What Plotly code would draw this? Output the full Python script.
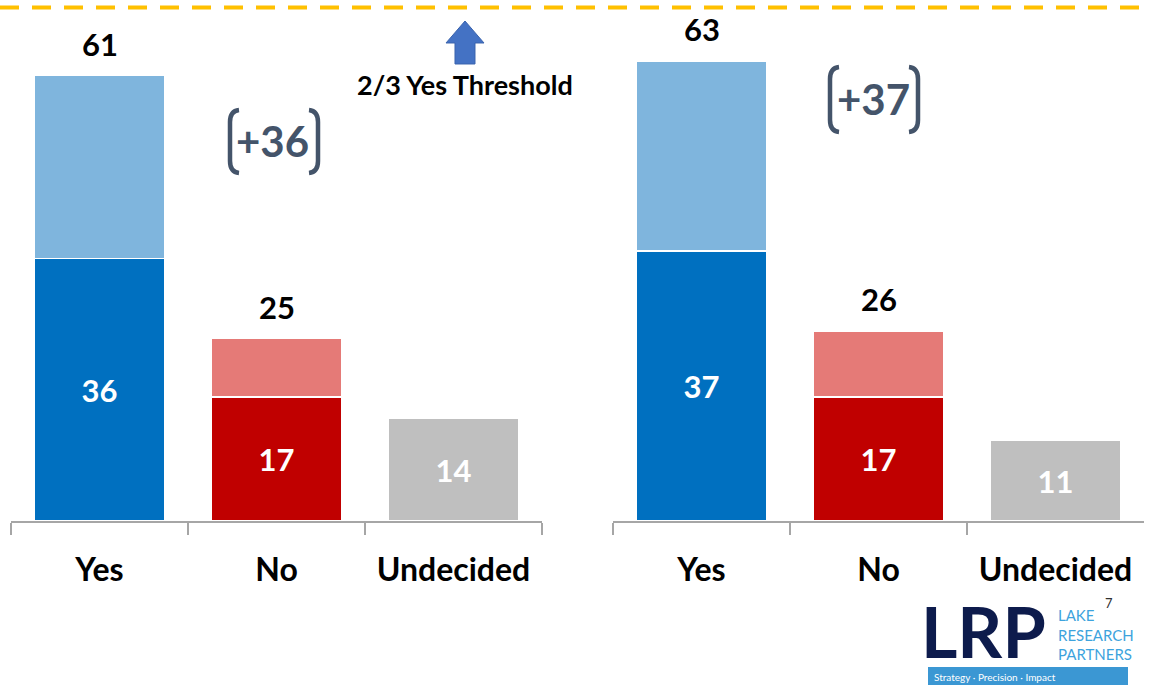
import plotly.graph_objects as go

# ---------------- data ----------------
categories = ["Yes", "No", "Undecided"]

left_firm = [36, 17, 14]      # strong (dark) segments
left_totals = [61, 25, 14]    # totals shown above bars
right_firm = [37, 17, 11]
right_totals = [63, 26, 11]

left_margin_label = "+36"
right_margin_label = "+37"
threshold_label = "2/3 Yes Threshold"
page_number = "7"

# ---------------- style ----------------
DARK = ["#0070C0", "#C00000", "#BFBFBF"]
LIGHT = ["#7FB5DD", "#E57A77", "#BFBFBF"]
FONT = "Lato, 'Open Sans', sans-serif"
W, H = 1150, 685
AXIS_Y = 521.0           # pixel row of the category axis
YMAX = 71.4              # value at the top of the plot area


def X(px):
    return px / W


def Y(py):
    return (AXIS_Y - py) / AXIS_Y


fig = go.Figure()


def add_panel(firm, totals, xa, ya):
    soft = [t - f if t - f > 0 else None for f, t in zip(firm, totals)]
    fig.add_trace(go.Bar(
        x=categories, y=firm, xaxis=xa, yaxis=ya,
        marker=dict(color=DARK, line=dict(color="white", width=1.2)),
        text=[str(v) for v in firm], textposition="inside",
        insidetextanchor="middle", textangle=0, constraintext="none",
        textfont=dict(family=FONT, size=31, color="white", weight="bold"),
        hoverinfo="skip", showlegend=False,
    ))
    fig.add_trace(go.Bar(
        x=categories, y=soft, xaxis=xa, yaxis=ya,
        marker=dict(color=LIGHT, line=dict(color="white", width=1.2)),
        hoverinfo="skip", showlegend=False,
    ))
    for c, t, f in zip(categories, totals, firm):
        if t != f:
            fig.add_annotation(
                x=c, y=t, xref=xa, yref=ya, text=str(t), showarrow=False,
                yanchor="middle", yshift=32,
                font=dict(family=FONT, size=31, color="black", weight="bold"),
            )


add_panel(left_firm, left_totals, "x", "y")
add_panel(right_firm, right_totals, "x2", "y2")

xaxis_common = dict(
    type="category", categoryorder="array", categoryarray=categories,
    range=[-0.5, 2.5], showline=True, linecolor="#A6A6A6", linewidth=1.5,
    ticks="outside", tickson="boundaries", ticklen=12, tickcolor="#A6A6A6",
    tickwidth=1.5, ticklabelstandoff=20, showgrid=False, zeroline=False,
    tickfont=dict(family=FONT, size=32, color="black", weight="bold"),
    fixedrange=True,
)
yaxis_common = dict(range=[0, YMAX], visible=False, showgrid=False,
                    zeroline=False, fixedrange=True)

fig.update_layout(
    width=W, height=H,
    margin=dict(l=0, r=0, t=0, b=H - AXIS_Y, pad=0),
    paper_bgcolor="white", plot_bgcolor="white",
    barmode="stack", bargap=0.265, showlegend=False,
    xaxis=dict(domain=[X(11), X(542)], anchor="y", **xaxis_common),
    yaxis=dict(domain=[0, 1], anchor="x", **yaxis_common),
    xaxis2=dict(domain=[X(613), X(1144)], anchor="y2", **xaxis_common),
    yaxis2=dict(domain=[0, 1], anchor="x2", **yaxis_common),
)

shapes = []
# dashed 2/3 threshold line
shapes.append(dict(type="line", xref="paper", yref="paper",
                   x0=0, x1=1, y0=Y(7.5), y1=Y(7.5),
                   line=dict(color="#FFC000", width=4, dash="19px,13px")))
# up arrow
arrow = [(446, 43), (465, 21), (484, 43), (475, 43), (475, 64), (455, 64), (455, 43)]
path = "M " + " L ".join(f"{X(a):.5f},{Y(b):.5f}" for a, b in arrow) + " Z"
shapes.append(dict(type="path", xref="paper", yref="paper", path=path,
                   fillcolor="#4472C4", line=dict(color="#3A63AD", width=1)))


def bracket(xl, xr, yt, yb):
    out = []
    c = 9
    for x0, dx in ((xl, 1), (xr, -1)):
        p = (f"M {X(x0 + dx * 9):.5f},{Y(yt):.5f} "
             f"Q {X(x0):.5f},{Y(yt + 1):.5f} {X(x0):.5f},{Y(yt + c + 3):.5f} "
             f"L {X(x0):.5f},{Y(yb - c - 3):.5f} "
             f"Q {X(x0):.5f},{Y(yb - 1):.5f} {X(x0 + dx * 9):.5f},{Y(yb):.5f}")
        out.append(dict(type="path", xref="paper", yref="paper", path=p,
                        line=dict(color="#44546A", width=4.5)))
    return out


shapes += bracket(230, 318, 110, 173)
shapes += bracket(830, 918, 67, 132)

# logo strip
shapes.append(dict(type="rect", xref="paper", yref="paper",
                   x0=X(928), x1=X(1128), y0=Y(667), y1=Y(690),
                   fillcolor="#3B97D3", line=dict(width=0)))
fig.update_layout(shapes=shapes)

ann = [
    dict(x=X(464.5), y=Y(85), text=threshold_label,
         font=dict(family=FONT, size=27, color="black", weight="bold")),
    dict(x=X(272.5), y=Y(141), text=left_margin_label,
         font=dict(family=FONT, size=42, color="#44546A", weight="bold")),
    dict(x=X(873), y=Y(99), text=right_margin_label,
         font=dict(family=FONT, size=42, color="#44546A", weight="bold")),
    dict(x=X(983.5), y=Y(631), text="LRP", height=62,
         font=dict(family=FONT, size=70, color="#0D1B4C", weight="bold")),
    dict(x=X(1056), y=Y(634), text="LAKE<br>RESEARCH<br>PARTNERS", xanchor="left",
         align="left", font=dict(family=FONT, size=15, color="#3DA3DD")),
    dict(x=X(932), y=Y(677), text="Strategy · Precision · Impact", xanchor="left",
         font=dict(family=FONT, size=10, color="white")),
    dict(x=X(1109), y=Y(603), text=page_number,
         font=dict(family=FONT, size=13, color="#303030")),
]
for a in ann:
    a.setdefault("xanchor", "center")
    fig.add_annotation(xref="paper", yref="paper", yanchor="middle",
                       showarrow=False, **a)

fig.write_html("out.html")
